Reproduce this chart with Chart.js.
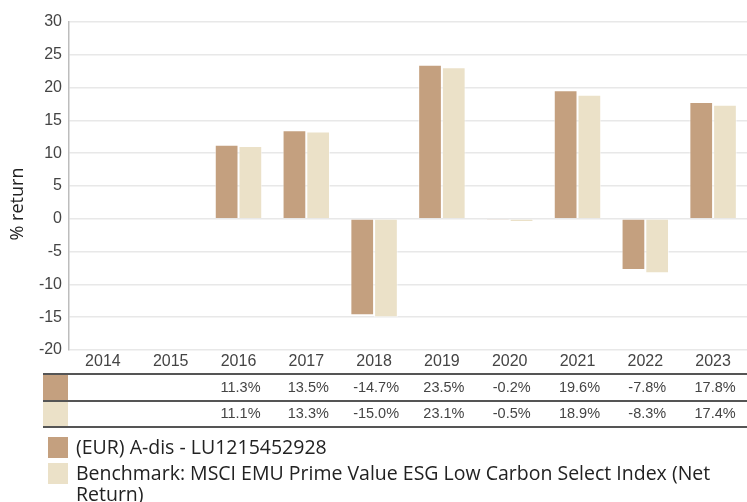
<!DOCTYPE html>
<html>
<head>
<meta charset="utf-8">
<script src="https://cdn.jsdelivr.net/npm/chart.js@4.4.1/dist/chart.umd.min.js"></script>
<style>
html,body{margin:0;padding:0;background:#fff;}
#wrap{position:relative;width:747px;height:502px;overflow:hidden;}
#legend{position:absolute;left:48px;top:436px;width:690px;font-family:"Open Sans","Noto Sans",sans-serif;font-size:19.5px;color:#222;line-height:21px;}
.item{position:relative;padding-left:28px;margin-bottom:5px;}
.sw{position:absolute;left:0;top:1px;width:20px;height:21px;}
</style>
</head>
<body>
<div id="wrap">
<canvas id="c" width="747" height="502"></canvas>
<div id="legend"></div>
</div>
<script>
const categories = ["2014","2015","2016","2017","2018","2019","2020","2021","2022","2023"];
const fundValues = [null,null,11.3,13.5,-14.7,23.5,-0.2,19.6,-7.8,17.8];
const benchValues = [null,null,11.1,13.3,-15.0,23.1,-0.5,18.9,-8.3,17.4];
const seriesNames = ["(EUR) A-dis - LU1215452928","Benchmark: MSCI EMU Prime Value ESG Low Carbon Select Index (Net Return)"];
const yTicks = [30,25,20,15,10,5,0,-5,-10,-15,-20];
const yTitle = "% return";
const colors = ["#c4a07f","#ebe1c8"];

const tablePlugin = {
  id:'tablePlugin',
  afterDraw(chart){
    const ctx = chart.ctx;
    const x = chart.scales.x;
    const lines = [374,401,427];
    ctx.save();
    ctx.fillStyle = colors[0];
    ctx.fillRect(43,375,25,25);
    ctx.fillStyle = colors[1];
    ctx.fillRect(43,402,25,24);
    ctx.strokeStyle = '#555';
    ctx.lineWidth = 2;
    lines.forEach(y=>{ctx.beginPath();ctx.moveTo(43,y);ctx.lineTo(747,y);ctx.stroke();});
    ctx.fillStyle = '#444';
    ctx.font = '14.5px "Liberation Sans", Arial, sans-serif';
    ctx.textAlign = 'center';
    ctx.textBaseline = 'middle';
    const rows = [fundValues, benchValues];
    const rowY = [388,414];
    rows.forEach((arr,ri)=>{
      arr.forEach((v,i)=>{
        if(v===null) return;
        ctx.fillText(v.toFixed(1)+'%', x.getPixelForValue(i)+2, rowY[ri]);
      });
    });
    ctx.translate(18,204);
    ctx.rotate(-Math.PI/2);
    ctx.fillStyle = '#222';
    ctx.font = '18px "Open Sans","Noto Sans",sans-serif';
    ctx.fillText(yTitle,0,0);
    ctx.restore();
  }
};

new Chart(document.getElementById('c'),{
  type:'bar',
  data:{
    labels:categories,
    datasets:[
      {label:seriesNames[0],data:fundValues,backgroundColor:colors[0],borderColor:'rgba(255,255,255,0.6)',borderWidth:1},
      {label:seriesNames[1],data:benchValues,backgroundColor:colors[1],borderColor:'rgba(255,255,255,0.6)',borderWidth:1}
    ]
  },
  options:{
    responsive:false,
    animation:false,
    events:[],
    layout:{padding:{top:22,bottom:128,left:0,right:0}},
    plugins:{legend:{display:false},tooltip:{enabled:false}},
    datasets:{bar:{categoryPercentage:0.7,barPercentage:1.0}},
    scales:{
      x:{
        grid:{display:false},
        border:{display:false},
        ticks:{color:'#444',font:{family:'"Liberation Sans", Arial, sans-serif',size:16},padding:-6},
        afterFit(s){s.height=24;}
      },
      y:{
        min:-20,max:30,
        afterBuildTicks(s){s.ticks=yTicks.map(v=>({value:v}));},
        grid:{color:'#e8e8e8',lineWidth:1.5,drawTicks:false},
        border:{color:'#bdbdbd',width:1.5},
        ticks:{color:'#444',font:{family:'"Liberation Sans", Arial, sans-serif',size:16},padding:7},
        afterFit(s){s.width=69;}
      }
    }
  },
  plugins:[tablePlugin]
});

const lg = document.getElementById('legend');
seriesNames.forEach((n,i)=>{
  const d = document.createElement('div');
  d.className='item';
  const sw = document.createElement('span');
  sw.className='sw';
  sw.style.background=colors[i];
  d.appendChild(sw);
  d.appendChild(document.createTextNode(n));
  lg.appendChild(d);
});
</script>
</body>
</html>
